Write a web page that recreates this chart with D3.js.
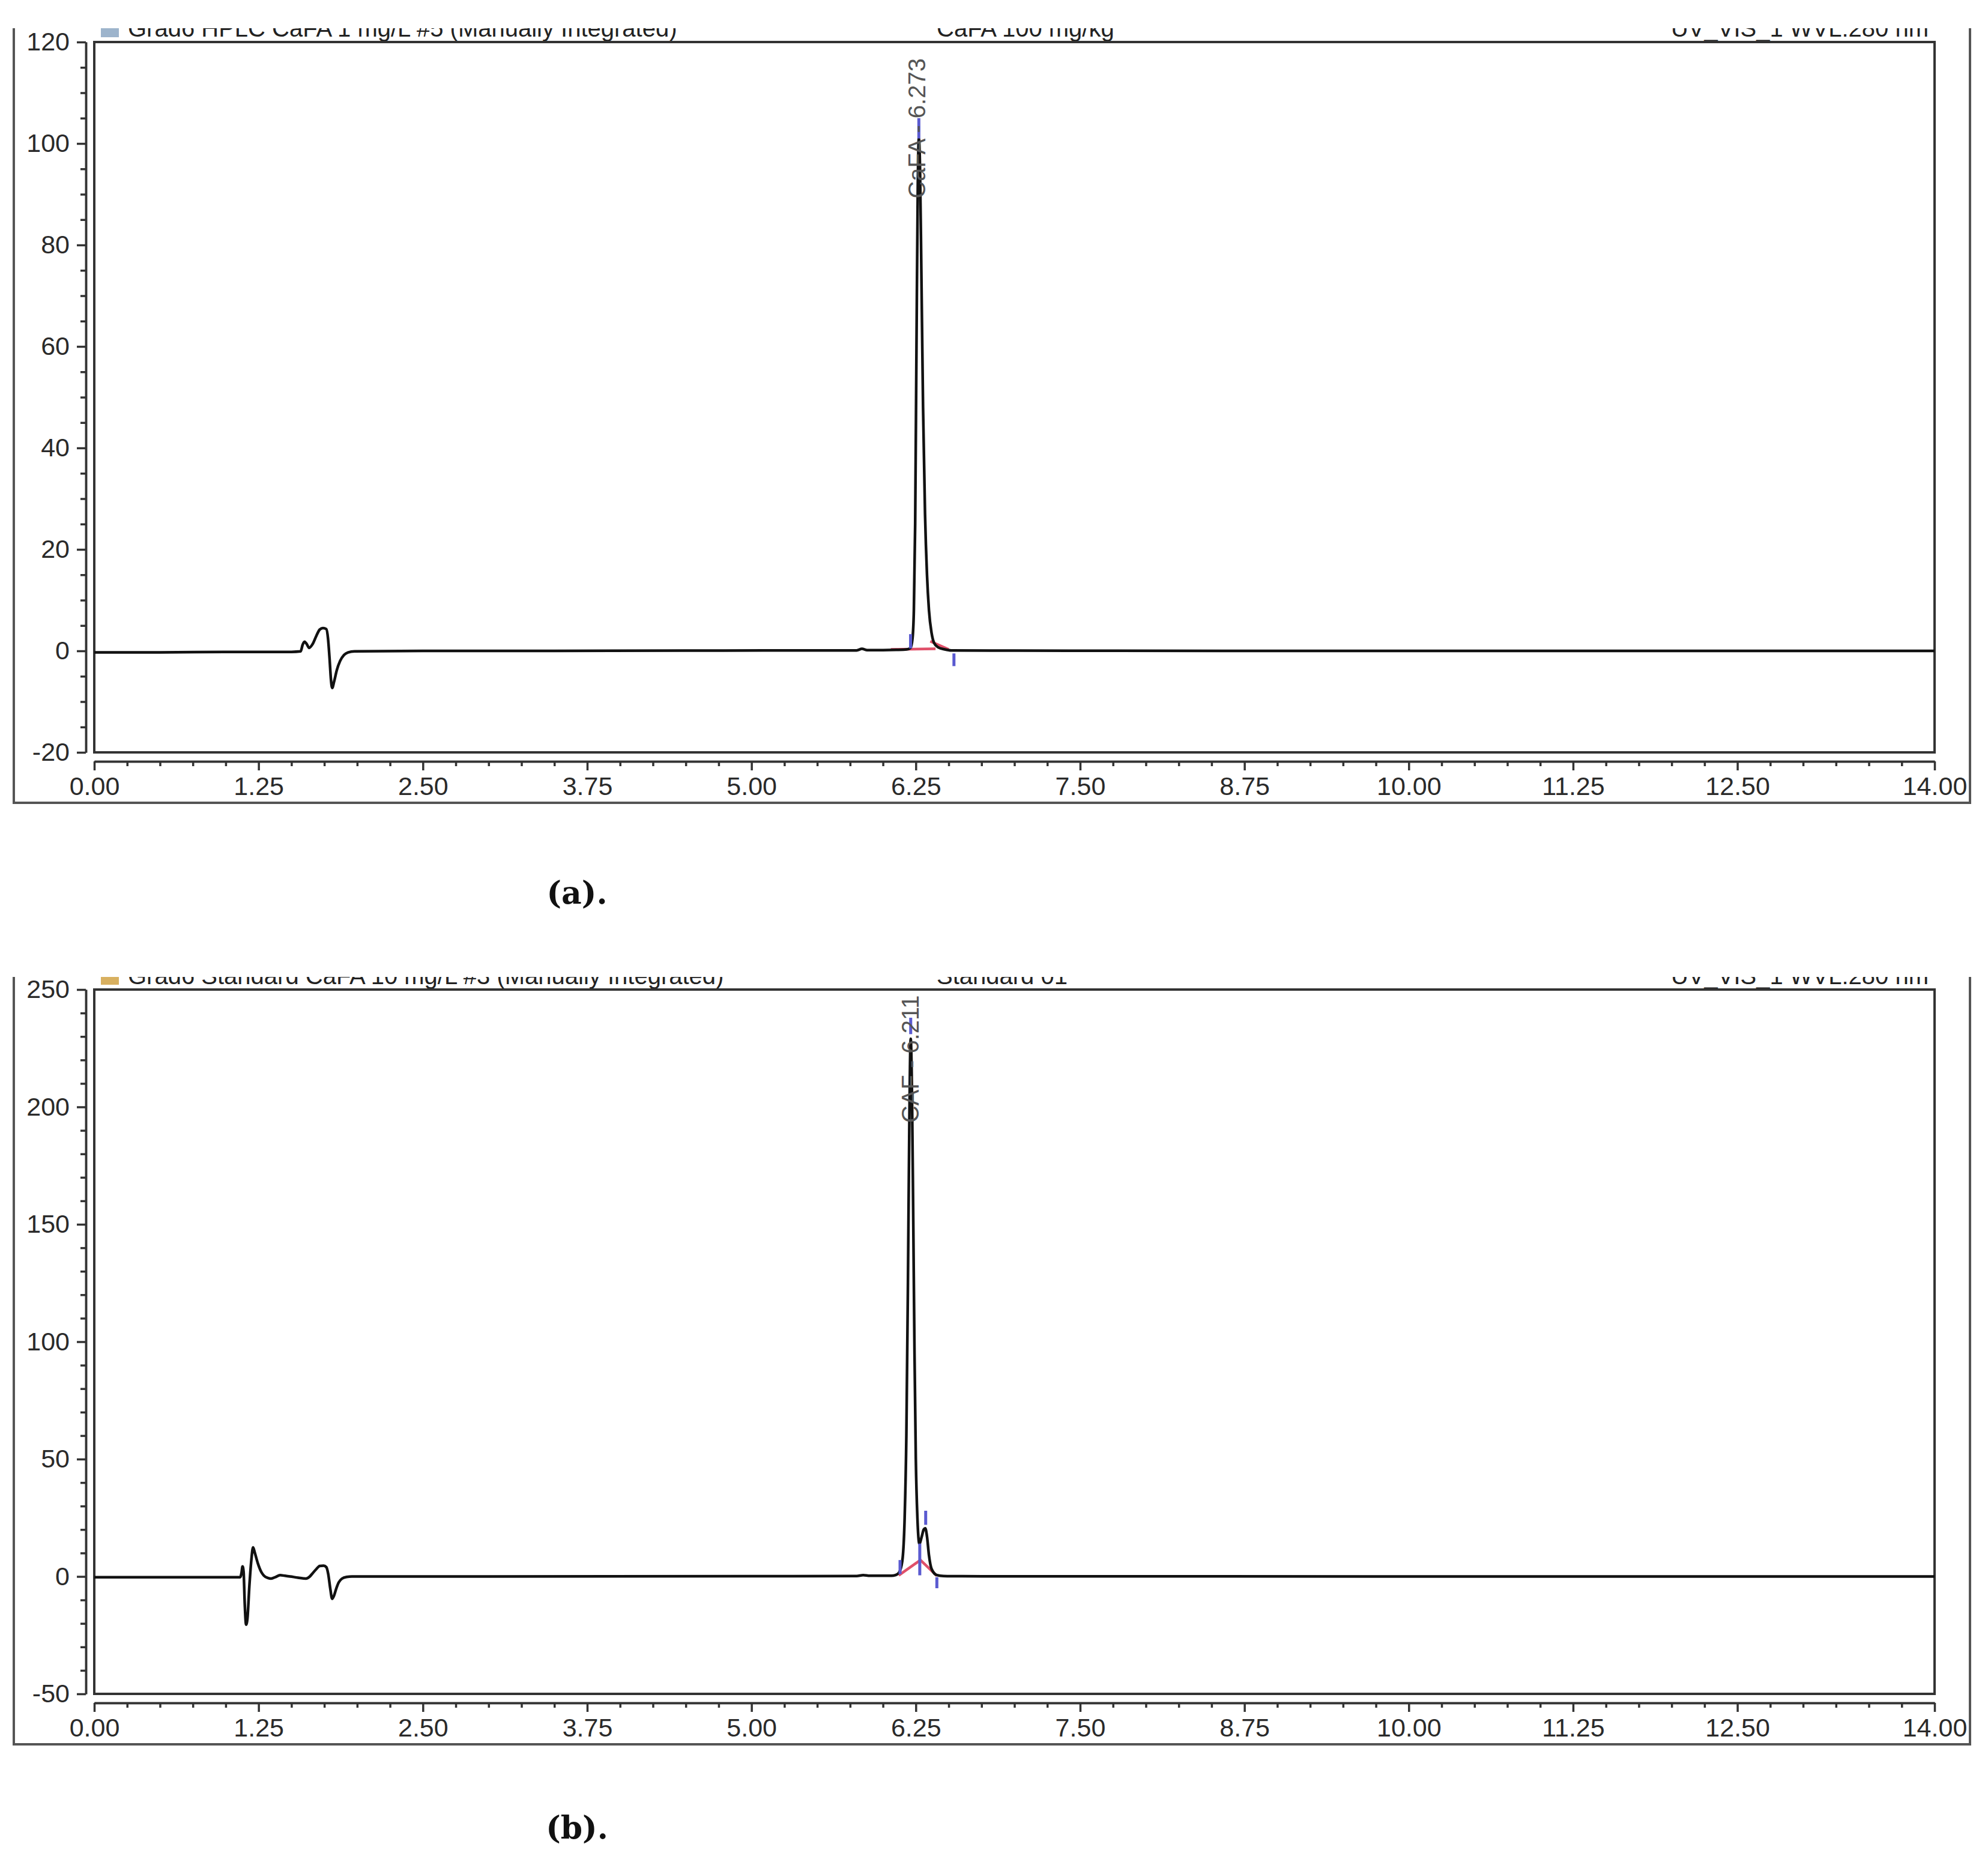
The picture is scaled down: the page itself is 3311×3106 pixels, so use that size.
<!DOCTYPE html>
<html>
<head>
<meta charset="utf-8">
<script src="https://cdn.jsdelivr.net/npm/d3@7"></script>
<style>
  body { margin: 0; background: #fff; }
  svg { display: block; }
</style>
</head>
<body>
<div id="chart"></div>
<script>
// retention time ticks (min)
const xTicks = [0, 1.25, 2.5, 3.75, 5, 6.25, 7.5, 8.75, 10, 11.25, 12.5, 14];
const yTicksA = [-20, 0, 20, 40, 60, 80, 100, 120];
const yTicksB = [-50, 0, 50, 100, 150, 200, 250];

// trace (a): [time, mAU]
const traceA = [
  [0, -0.3], [0.5, -0.3], [1.0, -0.2], [1.5, -0.2], [1.57, -0.1], [1.585, 1.2],
  [1.6, 1.8], [1.615, 1.4], [1.635, 0.6], [1.66, 1.3], [1.69, 3.0], [1.715, 4.2],
  [1.74, 4.5], [1.765, 4.3], [1.778, 2.5], [1.79, -1.5], [1.8, -5.5], [1.81, -7.3],
  [1.825, -6.0], [1.845, -3.8], [1.87, -2.0], [1.9, -0.8], [1.93, -0.3], [1.98, -0.1],
  [2.5, 0], [3.5, 0], [4.5, 0.05], [5.5, 0.1], [5.8, 0.1], [5.84, 0.4], [5.88, 0.15],
  [6.0, 0.15], [6.1, 0.2], [6.18, 0.3], [6.21, 0.6], [6.225, 2.5], [6.235, 8],
  [6.245, 25], [6.255, 60], [6.265, 92], [6.273, 101], [6.282, 95], [6.292, 75],
  [6.305, 48], [6.32, 27], [6.335, 15], [6.35, 8], [6.37, 3.5], [6.39, 1.5],
  [6.42, 0.7], [6.47, 0.3], [6.52, 0.1], [7.0, 0.05], [9.0, 0], [11.0, 0], [14.0, 0]
];

// trace (b)
const traceB = [
  [0, -0.3], [1.0, -0.3], [1.11, -0.3], [1.12, 1.5], [1.128, 4.3], [1.136, 2],
  [1.145, -12], [1.155, -20.5], [1.165, -18], [1.18, -4], [1.195, 7], [1.208, 12.4],
  [1.222, 10], [1.245, 5.5], [1.27, 2], [1.29, 0.4], [1.32, -0.6], [1.345, -0.9],
  [1.38, -0.2], [1.414, 0.6], [1.45, 0.3], [1.49, 0], [1.55, -0.5], [1.61, -0.9],
  [1.64, 0], [1.66, 1.3], [1.69, 3.2], [1.715, 4.5], [1.745, 4.6], [1.765, 4.0],
  [1.78, 1.0], [1.795, -5], [1.81, -9.5], [1.825, -8], [1.84, -5.3], [1.86, -2.5],
  [1.885, -0.9], [1.92, -0.2], [1.96, 0], [3.0, 0], [5.0, 0.1], [5.8, 0.2],
  [5.85, 0.6], [5.9, 0.3], [6.05, 0.3], [6.08, 0.4], [6.11, 1], [6.13, 2.5],
  [6.15, 8], [6.165, 25], [6.178, 60], [6.19, 125], [6.2, 190], [6.211, 229],
  [6.221, 205], [6.23, 155], [6.24, 95], [6.25, 50], [6.262, 25], [6.277, 14],
  [6.295, 17], [6.31, 20], [6.322, 20.5], [6.335, 17], [6.35, 9], [6.37, 3.2],
  [6.41, 0.6], [6.46, 0.2], [6.6, 0.1], [7.0, 0.05], [14.0, 0]
];

// integration marks: [time, from, to]
const marksA = [[6.21, 0.5, 3.3], [6.54, -0.5, -3], [6.273, 101, 105]];
const marksB = [[6.13, 1, 7], [6.28, 0.5, 14], [6.41, -0.3, -5], [6.325, 22, 28], [6.211, 231, 238]];
const baseA = [[6.06, 0.3], [6.4, 0.4]];
const tailA = [[6.36, 1.9], [6.5, 0.3]];
const baseB = [[6.12, 0.5], [6.285, 7], [6.41, 0.3]];

const peakA = { t: 6.273, v: 101, label: "CaFA - 6.273" };
const peakB = { t: 6.211, v: 229, label: "CAF - 6.211" };

const headA = ["Grad6 HPLC CaFA 1 mg/L #5 (Manually Integrated)", "CaFA 100 mg/kg", "UV_VIS_1 WVL:280 nm"];
const headB = ["Grad6 Standard CaFA 10 mg/L #3 (Manually Integrated)", "Standard 01", "UV_VIS_1 WVL:280 nm"];

const W = 3311, H = 3106;
const svg = d3.select("#chart").append("svg")
  .attr("width", W).attr("height", H)
  .attr("viewBox", `0 0 ${W} ${H}`);

const x = d3.scaleLinear().domain([0, 14]).range([157, 3222]);

function drawPanel(o) {
  const g = svg.append("g");
  const y = d3.scaleLinear().domain(o.yDomain).range([o.bottom, o.top]);

  // header, cut by the crop line
  const clipId = "clip" + o.id;
  svg.append("clipPath").attr("id", clipId)
    .append("rect").attr("x", 0).attr("y", o.crop).attr("width", W).attr("height", o.top - o.crop);
  const head = g.append("g").attr("clip-path", `url(#${clipId})`)
    .attr("font-family", "Liberation Sans, Arial, sans-serif")
    .attr("font-size", 40).attr("fill", "#222");
  head.append("rect").attr("x", 168).attr("y", o.top - 40).attr("width", 30).attr("height", 32)
    .attr("fill", o.icon);
  head.append("text").attr("x", 213).attr("y", o.top - 9).text(o.head[0]);
  head.append("text").attr("x", 1560).attr("y", o.top - 9).text(o.head[1]);
  head.append("text").attr("x", 3212).attr("y", o.top - 9).attr("text-anchor", "end").text(o.head[2]);

  // outer border (top edge lost in the crop)
  g.append("path")
    .attr("d", `M23,${o.crop}V${o.bottom + 84}H3281V${o.crop}`)
    .attr("fill", "none").attr("stroke", "#555").attr("stroke-width", 4);

  // plot frame
  g.append("rect")
    .attr("x", x(0)).attr("y", o.top)
    .attr("width", x(14) - x(0)).attr("height", o.bottom - o.top)
    .attr("fill", "none").attr("stroke", "#333").attr("stroke-width", 4);

  // y axis, set off to the left of the frame
  const minorY = d3.range(o.yDomain[0], o.yDomain[1] + 0.001, o.yMinor).filter(v => !o.yTicks.includes(v));
  const yMinorAxis = g.append("g").attr("transform", "translate(143,0)")
    .call(d3.axisLeft(y).tickValues(minorY).tickSize(9).tickSizeOuter(0).tickFormat(""));
  const yAxis = g.append("g").attr("transform", "translate(143,0)")
    .call(d3.axisLeft(y).tickValues(o.yTicks).tickSize(15).tickSizeOuter(0).tickPadding(12));

  // x axis, set off below the frame
  const minorX = d3.range(0, 14.001, 0.25).filter(v => !xTicks.some(t => Math.abs(t - v) < 1e-6));
  const xMinorAxis = g.append("g").attr("transform", `translate(0,${o.bottom + 15})`)
    .call(d3.axisBottom(x).tickValues(minorX).tickSize(8).tickSizeOuter(0).tickFormat(""));
  const xAxis = g.append("g").attr("transform", `translate(0,${o.bottom + 15})`)
    .call(d3.axisBottom(x).tickValues(xTicks).tickSize(15).tickSizeOuter(0).tickPadding(10)
      .tickFormat(d3.format(".2f")));

  [yMinorAxis, yAxis, xMinorAxis, xAxis].forEach(a => {
    a.selectAll("path, line").attr("stroke", "#333").attr("stroke-width", 3.5);
    a.selectAll("text").attr("fill", "#2a2a2a")
      .attr("font-family", "Liberation Sans, Arial, sans-serif").attr("font-size", 43);
  });
  yAxis.selectAll("text").text(d => d < 0 ? "-" + Math.abs(d) : d);

  // integration baseline
  const line = d3.line().x(d => x(d[0])).y(d => y(d[1]));
  o.base.forEach(b => {
    g.append("path").datum(b).attr("d", line)
      .attr("fill", "none").attr("stroke", "#e0506a").attr("stroke-width", 4.5);
  });

  // trace
  g.append("path").datum(o.trace)
    .attr("d", line.curve(d3.curveMonotoneX))
    .attr("fill", "none").attr("stroke", "#111").attr("stroke-width", 4.5)
    .attr("stroke-linejoin", "round");

  // peak start / end / apex marks
  g.selectAll(null).data(o.marks).join("line")
    .attr("x1", d => x(d[0])).attr("x2", d => x(d[0]))
    .attr("y1", d => y(d[1])).attr("y2", d => y(d[2]))
    .attr("stroke", "#5a5ad0").attr("stroke-width", 5);

  // peak label, rotated
  const px = x(o.peak.t) + o.labelDx, py = y(o.peak.v) + o.labelDy;
  g.append("text")
    .attr("transform", `translate(${px},${py}) rotate(-90)`)
    .attr("text-anchor", "start")
    .attr("font-family", "Liberation Sans, Arial, sans-serif")
    .attr("font-size", 40).attr("fill", "#555")
    .text(o.peak.label);

  // caption
  svg.append("text")
    .attr("x", 961).attr("y", o.captionY)
    .attr("text-anchor", "middle")
    .attr("font-family", "DejaVu Serif, serif").attr("font-weight", "bold")
    .attr("font-size", 52).attr("fill", "#111")
    .text(o.caption);
}

drawPanel({
  id: "a", crop: 47, top: 70, bottom: 1253, yDomain: [-20, 120], yTicks: yTicksA, yMinor: 5,
  trace: traceA, marks: marksA, base: [baseA, tailA], peak: peakA, labelDx: 11, labelDy: 100,
  head: headA, icon: "#9db4cc", caption: "(a).", captionY: 1505
});

drawPanel({
  id: "b", crop: 1627, top: 1648, bottom: 2821, yDomain: [-50, 250], yTicks: yTicksB, yMinor: 10,
  trace: traceB, marks: marksB, base: [baseB], peak: peakB, labelDx: 13, labelDy: 140,
  head: headB, icon: "#d8b060", caption: "(b).", captionY: 3062
});
</script>
</body>
</html>
